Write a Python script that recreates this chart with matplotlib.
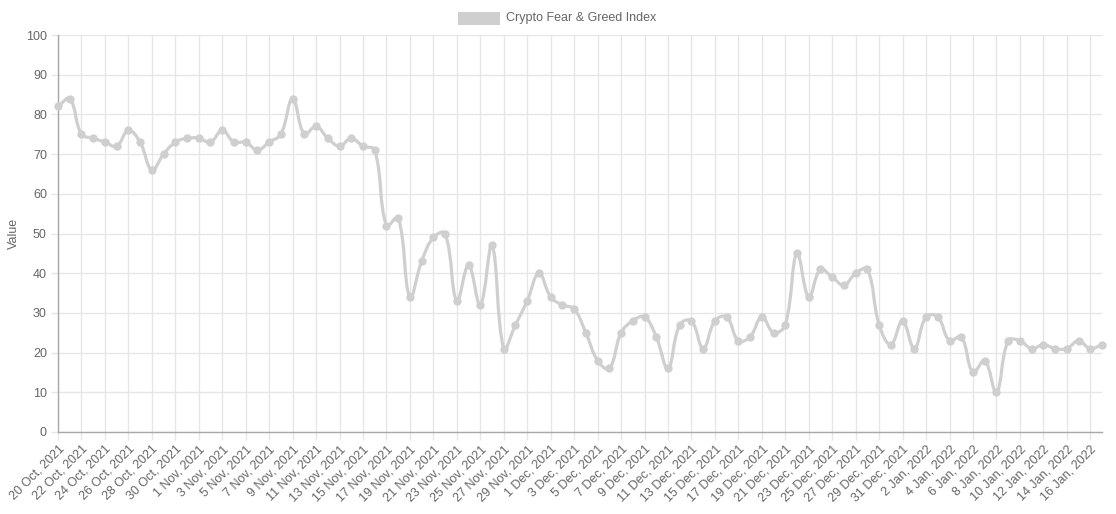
import numpy as np
import pandas as pd
import matplotlib
matplotlib.use("Agg")
import matplotlib.pyplot as plt
from matplotlib.path import Path
from matplotlib.patches import PathPatch, Rectangle

# ---- Data ----
dates = pd.date_range("2021-10-20", "2022-01-17", freq="D")
date_labels = [f"{d.day} {d.strftime('%b')}, {d.year}" for d in dates]

values = [
    82, 84, 75, 74, 73, 72, 76, 73, 66, 70,
    73, 74, 74, 73, 76, 73, 73, 71, 73, 75,
    84, 75, 77, 74, 72, 74, 72, 71, 52, 54,
    34, 43, 49, 50, 33, 42, 32, 47, 21, 27,
    33, 40, 34, 32, 31, 25, 18, 16, 25, 28,
    29, 24, 16, 27, 28, 21, 28, 29, 23, 24,
    29, 25, 27, 45, 34, 41, 39, 37, 40, 41,
    27, 22, 28, 21, 29, 29, 23, 24, 15, 18,
    10, 23, 23, 21, 22, 21, 21, 23, 21, 22,
]

series_name = "Crypto Fear & Greed Index"
line_color = "#cfcfcf"
text_color = "#666666"
grid_color = "#e6e6e6"
axis_color = "#a8a8a8"

plt.rcParams["font.family"] = ["Liberation Sans", "DejaVu Sans"]

fig = plt.figure(figsize=(11.16, 5.14), dpi=100)
fig.patch.set_facecolor("white")
ax = fig.add_axes([58 / 1116, 1 - 432 / 514, (1102 - 58) / 1116, (432 - 35) / 514])

x = np.arange(len(values))
y = np.array(values, dtype=float)
ax.set_xlim(0, len(values) - 1)
ax.set_ylim(0, 100)

# ---- Smooth line (Chart.js style bezier, tension 0.4) ----
fig.canvas.draw()
pts = ax.transData.transform(np.column_stack([x, y]))
tension = 0.4
cps_prev = np.zeros_like(pts)
cps_next = np.zeros_like(pts)
n = len(pts)
for i in range(n):
    p0 = pts[i - 1] if i > 0 else pts[i]
    p1 = pts[i]
    p2 = pts[i + 1] if i < n - 1 else pts[i]
    d01 = np.hypot(*(p1 - p0))
    d12 = np.hypot(*(p2 - p1))
    tot = d01 + d12
    s01 = d01 / tot if tot else 0
    s12 = d12 / tot if tot else 0
    cps_prev[i] = p1 - tension * s01 * (p2 - p0)
    cps_next[i] = p1 + tension * s12 * (p2 - p0)

verts = [pts[0]]
codes = [Path.MOVETO]
for i in range(1, n):
    verts += [cps_next[i - 1], cps_prev[i], pts[i]]
    codes += [Path.CURVE4] * 3
inv = ax.transData.inverted()
path = Path(inv.transform(np.array(verts)), codes)
ax.add_patch(PathPatch(path, facecolor="none", edgecolor=line_color, lw=2.3,
                       capstyle="round", joinstyle="round", zorder=3))
ax.plot(x, y, linestyle="none", marker="o", markersize=5,
        color=line_color, zorder=4, clip_on=False)

# ---- Axes styling ----
tick_idx = x[::2]
ax.set_xticks(tick_idx)
ax.set_xticklabels([date_labels[i] for i in tick_idx], rotation=45,
                   ha="right", rotation_mode="anchor")
ax.set_yticks(np.arange(0, 101, 10))
ax.tick_params(axis="x", length=6, width=1, color=grid_color, pad=2,
               labelsize=9, labelcolor=text_color)
ax.tick_params(axis="y", length=5, width=1, color=grid_color, pad=3,
               labelsize=9, labelcolor=text_color)
ax.grid(True, color=grid_color, linewidth=1)
ax.set_axisbelow(True)
for side in ["top", "right"]:
    ax.spines[side].set_visible(False)
for side in ["left", "bottom"]:
    ax.spines[side].set_color(axis_color)
    ax.spines[side].set_linewidth(1)
ax.set_ylabel("Value", fontsize=9, color=text_color, labelpad=4)

# ---- Legend ----
fig.patches.append(Rectangle((458 / 1116, 1 - 25 / 514), 42 / 1116, 13 / 514,
                             transform=fig.transFigure, facecolor=line_color,
                             edgecolor="none"))
fig.text(506 / 1116, 1 - 18 / 514, series_name, fontsize=9,
         color=text_color, va="center", ha="left")

fig.savefig("out.png", dpi=100, facecolor="white")
